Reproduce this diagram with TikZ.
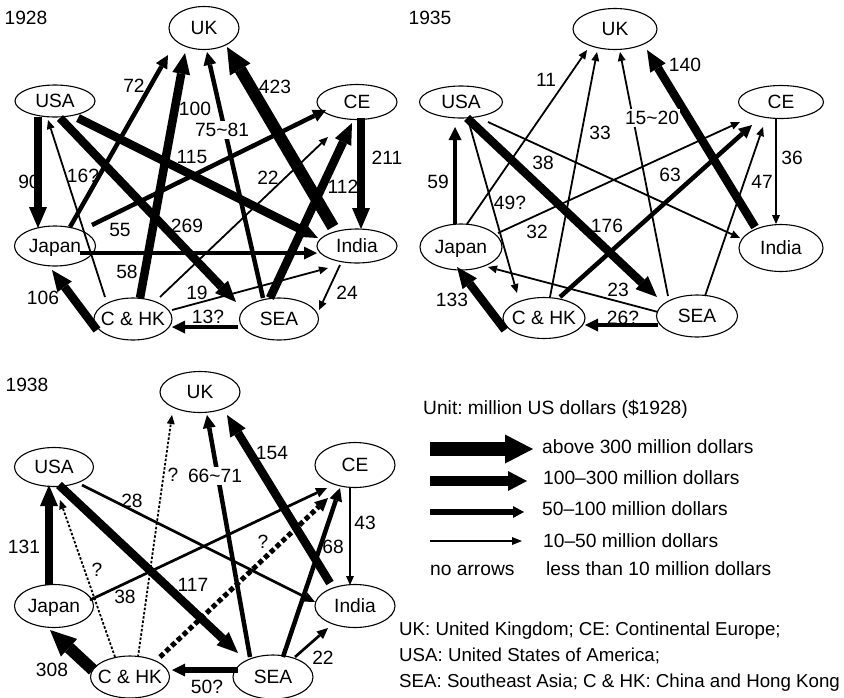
\documentclass[tikz,border=0pt]{standalone}
\usepackage{fontspec}
\setmainfont{Liberation Sans}
\usetikzlibrary{arrows.meta,calc,shapes.geometric}
\newcommand\ndtxt[1]{\makebox[0pt]{#1}}
\frenchspacing
\begin{document}
\begin{tikzpicture}[x=1pt,y=-1pt,
  every node/.style={font=\fontsize{19.2}{23}\selectfont, inner sep=0pt, text height=13.8pt, text depth=0pt},
  cty/.style={draw, ellipse, line width=1.1pt, minimum width=80pt, minimum height=40pt},
  lblw/.style={fill=white, inner xsep=1pt, inner ysep=2pt},
  w1/.style={line width=1.8pt, -{Triangle[length=9pt,width=8pt,line width=0pt]}},
  w1b/.style={line width=2.7pt, -{Triangle[length=11pt,width=10pt,line width=0pt]}},
  w1d/.style={line width=1.8pt, dash pattern=on 2.5pt off 1.8pt, -{Triangle[length=9pt,width=8pt,line width=0pt]}},
  w2/.style={line width=4.5pt, -{Triangle[length=13pt,width=13pt,line width=0pt]}},
  w2d/.style={line width=5pt, dash pattern=on 5pt off 3pt, -{Triangle[length=13pt,width=13pt,line width=0pt]}},
  w3/.style={line width=8.5pt, -{Triangle[length=21pt,width=18pt,line width=0pt]}},
  w4/.style={line width=12pt, -{Triangle[length=26pt,width=24pt,line width=0pt]}},
  lg1/.style={line width=2pt, -{Triangle[length=10pt,width=8pt,line width=0pt]}},
  lg2/.style={line width=6pt, -{Triangle[length=11pt,width=12pt,line width=0pt]}},
  lg3/.style={line width=10pt, -{Triangle[length=19pt,width=20pt,line width=0pt]}},
  lg4/.style={line width=14pt, -{Triangle[length=28pt,width=29pt,line width=0pt]}},
  bot/.style={anchor=west, font=\fontsize{18.7}{22}\selectfont}
]
\useasboundingbox (0,0) rectangle (844,697);

% ================= 1928 =================
\node (y28) at (26,18) {1928};
\node[cty, minimum width=70pt, minimum height=43pt] (aUK) at (204,28) {\ndtxt{UK}};
\node[cty, minimum height=32pt] (aUSA) at (55,101) {\ndtxt{USA}};
\node[cty, minimum height=35pt] (aCE) at (357,102) {\ndtxt{CE}};
\node[cty, minimum width=81pt] (aJP) at (55,246) {\ndtxt{Japan}};
\node[cty, minimum height=34pt] (aIN) at (357,246) {\ndtxt{India}};
\node[cty, minimum width=78pt, minimum height=42pt] (aCH) at (133,319) {\ndtxt{C \& HK}};
\node[cty, minimum width=79pt, minimum height=42pt] (aSEA) at (279,319) {\ndtxt{SEA}};

\node at (29,182) {90};
\node at (134,86) {72};
\node at (195,109) {100};
\node at (275,87) {423};
\node at (387,158) {211};
\node at (83,176) {16?};
\node at (192,157) {115};
\node at (268,178) {22};
\node at (343,187) {112};
\node at (120,230) {55};
\node at (187,226) {269};
\node at (127,272) {58};
\node at (197,293) {19};
\node at (347,293) {24};
\node at (208,317) {13?};
\node at (43,298) {106};

\draw[w3] ($(aUSA)+(-17,16)$) -- ($(aJP)+(-17,-18)$);
\draw[w3] ($(aCE)+(4,16)$) -- ($(aIN)+(4,-17)$);
\draw[w2] ($(aJP)+(25,7)$) -- ($(aIN)+(-40,7)$);
\draw[w2] ($(aJP)+(37,-21)$) -- ($(aCE)+(-31,8)$);
\draw[w2] ($(aJP)+(15,-19)$) -- ($(aUK)+(-36,27)$);
\draw[w3] ($(aCH)+(7,-21)$) -- ($(aUK)+(-19,25)$);
\draw[w2] ($(aSEA)+(-16,-21)$) -- ($(aUK)+(3,24)$);
\draw[w4] ($(aIN)+(-24,-19)$) -- ($(aUK)+(23,19)$);
\draw[w3] ($(aUSA)+(23,17)$) -- ($(aIN)+(-39,-8)$);
\draw[w3] ($(aUSA)+(5,17)$) -- ($(aSEA)+(-43,-17)$);
\draw[w1] ($(aCH)+(-28,-22)$) -- ($(aUSA)+(-7,19)$);
\draw[w1] ($(aCH)+(27,-22)$) -- ($(aCE)+(-29,35)$);
\draw[w3] ($(aSEA)+(-9,-21)$) -- ($(aCE)+(-5,21)$);
\draw[w1] ($(aCH)+(39,-9)$) -- ($(aIN)+(-29,22)$);
\draw[w2] ($(aSEA)+(-41,8)$) -- ($(aCH)+(39,8)$);
\draw[w1] ($(aIN)+(-17,19)$) -- ($(aSEA)+(40,-9)$);
\draw[w3] ($(aCH)+(-36,11)$) -- ($(aJP)+(-3,24)$);
\node[lblw] at (222,130) {75\textasciitilde 81};

% ================= 1935 =================
\node (y35) at (430,18) {1935};
\node[cty, minimum width=84pt, minimum height=41pt] (bUK) at (615,29) {\ndtxt{UK}};
\node[cty, minimum width=83pt, minimum height=32pt] (bUSA) at (461,102) {\ndtxt{USA}};
\node[cty, minimum width=85pt, minimum height=33pt] (bCE) at (781,102) {\ndtxt{CE}};
\node[cty, minimum width=82pt, minimum height=46pt] (bJP) at (461,247) {\ndtxt{Japan}};
\node[cty, minimum width=84pt, minimum height=47pt] (bIN) at (781,248) {\ndtxt{India}};
\node[cty, minimum width=82pt, minimum height=41pt] (bCH) at (544,318) {\ndtxt{C \& HK}};
\node[cty, minimum width=81pt, minimum height=42pt] (bSEA) at (697,316) {\ndtxt{SEA}};

\node at (546,80) {11};
\node at (685,65) {140};
\node at (600,133) {33};
\node at (792,158) {36};
\node at (543,163) {38};
\node at (670,175) {63};
\node at (762,182) {47};
\node at (438,182) {59};
\node at (510,203) {49?};
\node at (537,232) {32};
\node at (607,226) {176};
\node at (618,290) {23};
\node at (623,318) {26?};
\node at (452,300) {133};

\draw[w2] ($(bJP)+(-6,-23)$) -- ($(bUSA)+(-6,25)$);
\draw[w1] ($(bJP)+(6,-23)$) -- ($(bUK)+(-28,21)$);
\draw[w1] ($(bCH)+(6,-21)$) -- ($(bUK)+(-18,23)$);
\draw[w1] ($(bSEA)+(-29,-20)$) -- ($(bUK)+(5,23)$);
\draw[w3] ($(bIN)+(-26,-21)$) -- ($(bUK)+(32,21)$);
\draw[w3] ($(bUSA)+(6,16)$) -- ($(bSEA)+(-40,-19)$);
\draw[w1] ($(bUSA)+(27,20)$) -- ($(bIN)+(-41,-10)$);
\draw[w1] ($(bUSA)+(8,21)$) -- ($(bCH)+(-27,-25)$);
\draw[w1] ($(bJP)+(37,-14)$) -- ($(bCE)+(-41,20)$);
\draw[w2] ($(bCH)+(16,-21)$) -- ($(bCE)+(-29,23)$);
\draw[w1] ($(bSEA)+(8,-20)$) -- ($(bCE)+(-18,25)$);
\draw[w1] ($(bCE)+(-5,16)$) -- ($(bIN)+(-5,-24)$);
\draw[w1] ($(bSEA)+(-39,-4)$) -- ($(bJP)+(27,20)$);
\draw[w2] ($(bSEA)+(-39,9)$) -- ($(bCH)+(41,7)$);
\draw[w3] ($(bCH)+(-39,12)$) -- ($(bJP)+(-4,20)$);
\node[lblw] at (652,118) {15\textasciitilde 20};

% ================= 1938 =================
\node (y38) at (27,385) {1938};
\node[cty, minimum width=80pt, minimum height=41pt] (cUK) at (200,392) {\ndtxt{UK}};
\node[cty, minimum width=79pt, minimum height=39pt] (cUSA) at (54,467) {\ndtxt{USA}};
\node[cty, minimum height=45pt] (cCE) at (355,465) {\ndtxt{CE}};
\node[cty, minimum width=79pt, minimum height=43pt] (cJP) at (54,606) {\ndtxt{Japan}};
\node[cty, minimum height=43pt] (cIN) at (355,606) {\ndtxt{India}};
\node[cty, minimum width=79pt, minimum height=42pt] (cCH) at (130,677) {\ndtxt{C \& HK}};
\node[cty, minimum height=44pt] (cSEA) at (273,677) {\ndtxt{SEA}};

\node at (272,453) {154};
\node at (173,475) {?};
\node at (132,501) {28};
\node at (365,523) {43};
\node at (24,547) {131};
\node at (263,542) {?};
\node at (333,547) {68};
\node at (97,570) {?};
\node at (193,585) {117};
\node at (125,597) {38};
\node at (52,670) {308};
\node at (323,658) {22};
\node at (207,687) {50?};

\draw[w3] ($(cJP)+(-5,-21)$) -- ($(cUSA)+(-5,18)$);
\draw[w1d] ($(cCH)+(-15,-20)$) -- ($(cUSA)+(6,33)$);
\draw[w1d] ($(cCH)+(8,-20)$) -- ($(cUK)+(-28,23)$);
\draw[w2] ($(cSEA)+(-23,-20)$) -- ($(cUK)+(7,23)$);
\draw[w3] ($(cIN)+(-25,-23)$) -- ($(cUK)+(27,23)$);
\draw[w3] ($(cUSA)+(5,18)$) -- ($(cSEA)+(-35,-24)$);
\draw[w1b] ($(cUSA)+(28,18)$) -- ($(cIN)+(-40,-4)$);
\draw[w1b] ($(cJP)+(36,-6)$) -- ($(cCE)+(-28,23)$);
\draw[w2d] ($(cCH)+(30,-20)$) -- ($(cCE)+(-27,33)$);
\draw[w2] ($(cSEA)+(10,-20)$) -- ($(cCE)+(-15,23)$);
\draw[w1] ($(cCE)+(-5,22)$) -- ($(cIN)+(-5,-21)$);
\draw[w1b] ($(cSEA)+(22,-20)$) -- ($(cIN)+(-27,22)$);
\draw[w2, line width=5.5pt] ($(cSEA)+(-35,-7)$) -- ($(cCH)+(42,-7)$);
\draw[w4] ($(cCH)+(-37,-7)$) -- ($(cJP)+(-4,24)$);
\node[lblw] at (215,476) {66\textasciitilde 71};

% ================= legend =================
\node[anchor=west] (unit) at (423,408) {Unit: million US dollars (\$1928)};
\coordinate (l4s) at (430,449); \coordinate (l4e) at (533,449);
\coordinate (l3s) at (430,481); \coordinate (l3e) at (527,481);
\coordinate (l2s) at (430,512); \coordinate (l2e) at (524,512);
\coordinate (l1s) at (430,541); \coordinate (l1e) at (522,541);
\draw[lg4] (l4s) -- (l4e);
\draw[lg3] (l3s) -- (l3e);
\draw[lg2] (l2s) -- (l2e);
\draw[lg1] (l1s) -- (l1e);
\node[anchor=west] (t4) at (542,447) {above 300 million dollars};
\node[anchor=west] (t3) at (543,478) {100–300 million dollars};
\node[anchor=west] (t2) at (542,509) {50–100 million dollars};
\node[anchor=west] (t1) at (543,541) {10–50 million dollars};
\node[anchor=west] (t0a) at (430,569) {no arrows};
\node[anchor=west] (t0b) at (546,569) {less than 10 million dollars};

\node[bot] (k1) at (399,629) {UK: United Kingdom; CE: Continental Europe;};
\node[bot] (k2) at (399,655) {USA: United States of America;};
\node[bot] (k3) at (399,681) {SEA: Southeast Asia; C \& HK: China and Hong Kong};
\end{tikzpicture}
\end{document}
